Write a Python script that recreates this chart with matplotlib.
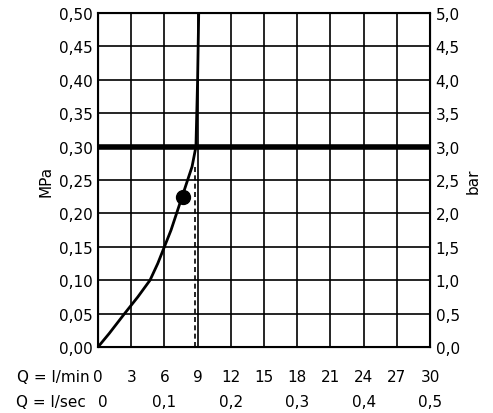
import matplotlib
matplotlib.use("Agg")
import matplotlib.pyplot as plt
import matplotlib.transforms as mt

flow_lmin = [0, 1.0, 2.4, 3.6, 4.7, 5.4, 6.0, 6.6, 7.1, 7.6, 8.1, 8.5, 8.85, 9.0, 9.1]
press_mpa = [0, 0.02, 0.05, 0.075, 0.10, 0.125, 0.15, 0.175, 0.20, 0.225, 0.25, 0.27, 0.30, 0.40, 0.50]
point = (7.7, 0.225)
dash_x = 8.75
dash_top = 0.27
limit_mpa = 0.30
xticks_lmin = [0, 3, 6, 9, 12, 15, 18, 21, 24, 27, 30]
lsec_pos = [0, 6, 12, 18, 24, 30]
lsec_labels = ["0", "0,1", "0,2", "0,3", "0,4", "0,5"]
yticks = [i * 0.05 for i in range(11)]

fig = plt.figure(figsize=(4.93, 4.14), dpi=100)
ax = fig.add_axes([98/493, 1-348/414, 332/493, 334/414])
ax.set_xlim(0, 30); ax.set_ylim(0, 0.5)
ax.set_xticks(xticks_lmin); ax.set_yticks(yticks)
ax.grid(True, color="black", lw=1.2)
for s in ax.spines.values(): s.set_linewidth(1.5)
ax.tick_params(length=0, labelsize=11, pad=4)
ax.set_yticklabels([f"{v:.2f}".replace(".", ",") for v in yticks])
ax.set_xticklabels([])
ax.plot(flow_lmin, press_mpa, color="black", lw=2, zorder=4)
ax.axhline(limit_mpa, color="black", lw=4, zorder=5)
ax.plot([dash_x, dash_x], [0, dash_top], color="black", lw=1.2, ls=(0, (3, 2)), zorder=4)
ax.plot(*point, "o", color="black", ms=10, zorder=6)
ax.set_ylabel("MPa", fontsize=11)

ax2 = ax.twinx()
ax2.set_ylim(0, 5)
ax2.set_yticks([i * 0.5 for i in range(11)])
ax2.set_yticklabels([f"{i*0.5:.1f}".replace(".", ",") for i in range(11)])
ax2.tick_params(length=0, labelsize=11, pad=4)
ax2.set_ylabel("bar", fontsize=11)

tr = mt.blended_transform_factory(ax.transData, fig.transFigure)
for p in xticks_lmin:
    ax.text(p, 1-378/414, str(p), transform=tr, ha="center", va="center", fontsize=11)
for p, l in zip(lsec_pos, lsec_labels):
    ax.text(p + (0.4 if p == 0 else 0), 1-403/414, l, transform=tr, ha="center", va="center", fontsize=11)
fig.text(90/493, 1-378/414, "Q = l/min", ha="right", va="center", fontsize=11)
fig.text(86/493, 1-403/414, "Q = l/sec", ha="right", va="center", fontsize=11)
fig.savefig("out.png", dpi=100)
